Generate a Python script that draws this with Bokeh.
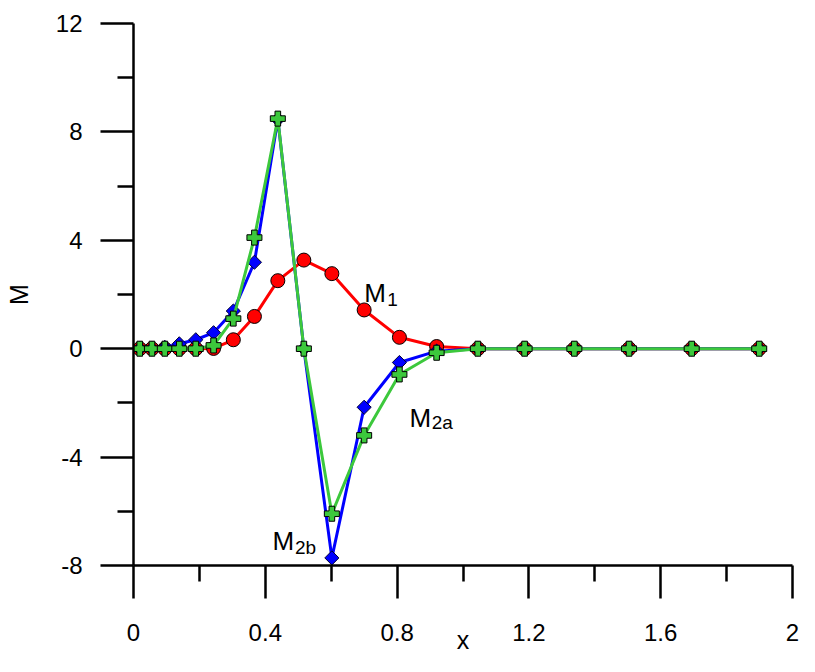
import math
from bokeh.plotting import figure
from bokeh.models import Range1d, FixedTicker, Label
from bokeh.embed import file_html
from bokeh.resources import INLINE

# ---- data ----
x = [0.019, 0.056, 0.095, 0.139, 0.189, 0.243, 0.303, 0.367, 0.438, 0.517,
     0.602, 0.700, 0.807, 0.920, 1.045, 1.187, 1.338, 1.504, 1.694, 1.899]
m1 = [0.0, 0.0, 0.0, 0.0, 0.0, 0.01, 0.33, 1.19, 2.51, 3.27,
      2.77, 1.43, 0.42, 0.08, 0.0, 0.0, 0.0, 0.0, 0.0, 0.0]
m2a = [0.0, 0.0, 0.05, 0.18, 0.33, 0.59, 1.39, 3.19, 8.46, 0.0,
       -7.72, -2.16, -0.51, -0.09, 0.0, 0.0, 0.0, 0.0, 0.0, 0.0]
m2b = [0.0, 0.0, 0.0, 0.0, 0.0, 0.12, 1.11, 4.10, 8.49, 0.0,
       -6.09, -3.20, -0.95, -0.15, 0.0, 0.0, 0.0, 0.0, 0.0, 0.0]

x_ticks = [0, 0.4, 0.8, 1.2, 1.6, 2]
x_tick_labels = ["0", "0.4", "0.8", "1.2", "1.6", "2"]
x_minor = [0.2, 0.6, 1.0, 1.4, 1.8]
y_ticks = [-8, -4, 0, 4, 8, 12]
y_tick_labels = ["-8", "-4", "0", "4", "8", "12"]
y_minor = [-6, -2, 2, 6, 10]

FONT = "Liberation Sans"

p = figure(width=799, height=656, x_range=Range1d(0, 2), y_range=Range1d(-8, 12),
           output_backend="svg", toolbar_location=None,
           min_border_left=133, min_border_right=7, min_border_top=23, min_border_bottom=91,
           x_axis_label="x", y_axis_label="M")
p.outline_line_color = None
p.grid.visible = False
p.background_fill_color = "white"

for ax, ticks, labels, minor in ((p.xaxis[0], x_ticks, x_tick_labels, x_minor),
                                 (p.yaxis[0], y_ticks, y_tick_labels, y_minor)):
    ax.ticker = FixedTicker(ticks=ticks, minor_ticks=minor)
    ax.major_label_overrides = {t: l for t, l in zip(ticks, labels)}
    ax.axis_line_width = 2.5
    ax.major_tick_line_width = 2.5
    ax.minor_tick_line_width = 2.5
    ax.major_tick_out = 33
    ax.major_tick_in = 0
    ax.minor_tick_out = 16
    ax.minor_tick_in = 0
    ax.major_label_text_font = FONT
    ax.major_label_text_font_size = "24px"
    ax.major_label_text_color = "black"
    ax.axis_label_text_font = FONT
    ax.axis_label_text_font_size = "25px"
    ax.axis_label_text_font_style = "normal"
    ax.axis_label_text_color = "black"

p.yaxis[0].major_label_standoff = 18
p.yaxis[0].axis_label_standoff = 20
p.xaxis[0].major_label_standoff = 25
p.xaxis[0].axis_label_standoff = -18

# M1 (red circles)
p.line(x, m1, line_color="#FF0000", line_width=3)
p.scatter(x, m1, marker="circle", size=14, fill_color="#FF0000", line_color="black", line_width=1)
# M2a (blue diamonds)
p.line(x, m2a, line_color="#0000FF", line_width=3)
p.scatter(x, m2a, marker="square", angle=math.pi / 4, size=10, fill_color="#0000FF",
          line_color="#000033", line_width=1)
# M2b (green plus)
p.line(x, m2b, line_color="#3CC83C", line_width=3)
p.scatter(x, m2b, marker="plus", size=15, fill_color="#3CC83C", line_color="black", line_width=1)

# curve labels: (main text, subscript, x, y, sub x, sub y)
labels = [("M", "1", 0.700, 2.05, 0.770, 1.83),
          ("M", "2a", 0.838, -2.55, 0.905, -2.73),
          ("M", "2b", 0.422, -7.10, 0.490, -7.33)]
for main, sub, lx, ly, sx, sy in labels:
    p.add_layout(Label(x=lx, y=ly, text=main, text_font=FONT, text_font_size="26px",
                       text_color="black", text_baseline="alphabetic"))
    p.add_layout(Label(x=sx, y=sy, text=sub, text_font=FONT, text_font_size="19px",
                       text_color="black", text_baseline="alphabetic"))

open("out.html", "w").write(file_html(p, INLINE))
